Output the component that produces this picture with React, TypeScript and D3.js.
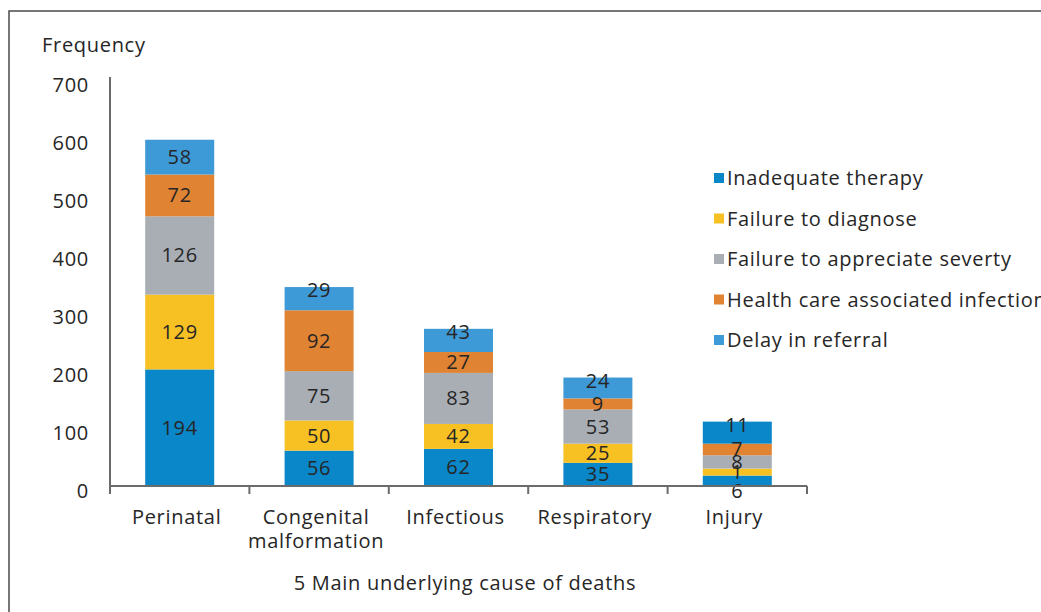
import React from "react";
import * as d3 from "d3";

// Categories (x axis)
const categories = ["Perinatal", "Congenital malformation", "Infectious", "Respiratory", "Injury"];
const categoryLines = [["Perinatal"], ["Congenital", "malformation"], ["Infectious"], ["Respiratory"], ["Injury"]];

// Series names (stack order bottom -> top)
const seriesNames = [
  "Inadequate therapy",
  "Failure to diagnose",
  "Failure to appreciate severty",
  "Health care associated infection",
  "Delay in referral",
];

// Segment heights as drawn in the picture (per series, per category)
const inadequateTherapy = [201, 61, 64, 40, 18];
const failureToDiagnose = [129, 52, 43, 33, 12];
const failureToAppreciate = [135, 85, 88, 59, 23];
const healthCareInfection = [72, 105, 36, 19, 20];
const delayInReferral = [60, 40, 40, 36, 38];

// Printed data labels
const labInadequate = [194, 56, 62, 35, 6];
const labDiagnose = [129, 50, 42, 25, 1];
const labAppreciate = [126, 75, 83, 53, 8];
const labInfection = [72, 92, 27, 9, 7];
const labDelay = [58, 29, 43, 24, 11];

const yTicks = [0, 100, 200, 300, 400, 500, 600, 700];

const seriesValues = [inadequateTherapy, failureToDiagnose, failureToAppreciate, healthCareInfection, delayInReferral];
const seriesLabels = [labInadequate, labDiagnose, labAppreciate, labInfection, labDelay];
const colors = ["#0a87c8", "#f7c124", "#a9aeb5", "#e08332", "#3e9ad6"];

const FONT = "'Open Sans', sans-serif";
const FS = 20;
const LS = 0.7;
const TEXT = "#262626";
const AXIS = "#6b6b6b";

export default function App() {
  const W = 1041, H = 612;
  const x0 = 110, x1 = 807, yBase = 486;
  const x = d3.scaleBand<string>().domain(categories).range([x0, x1]).padding(0);
  const y = d3.scaleLinear().domain([0, 700]).range([yBase, 80]);
  const bw = x.bandwidth() * 0.495;

  const rows = categories.map((c, i) => {
    const o: any = { cat: c };
    seriesNames.forEach((s, j) => (o[s] = seriesValues[j][i]));
    return o;
  });
  const stacked = d3.stack<any>().keys(seriesNames)(rows);
  const tp = { fontFamily: FONT, fontSize: FS, letterSpacing: LS, fill: TEXT };

  return (
    <svg width={W} height={H} style={{ position: "absolute", left: 0, top: 0, background: "#fff" }}>
      <rect x={9} y={11} width={W + 20} height={H + 20} fill="#fff" stroke="#4a4a4a" strokeWidth={1.5} />
      <text x={42} y={52} {...tp}>Frequency</text>
      {yTicks.map((t) => (
        <text key={t} x={89} y={y(t) + 5} dy="0.35em" textAnchor="end" {...tp}>{t}</text>
      ))}
      {stacked.map((layer, j) =>
        layer.map((d, i) => (
          <rect
            key={`${j}-${i}`}
            x={(x(categories[i]) as number) + (x.bandwidth() - bw) / 2}
            y={y(d[1])}
            width={bw}
            height={y(d[0]) - y(d[1])}
            fill={j === 4 && i === 4 ? colors[0] : colors[j]}
          />
        ))
      )}
      {stacked.map((layer, j) =>
        layer.map((d, i) => {
          const top = y(d[1]);
          const bot = y(d[0]);
          const h = bot - top;
          let cy = (top + bot) / 2;
          if (j === 4 && h < 30) cy = top + 3;
          if (j === 0 && h < 15) cy = bot + 5;
          return (
            <text
              key={`l${j}-${i}`}
              x={(x(categories[i]) as number) + x.bandwidth() / 2}
              y={cy}
              dy="0.35em"
              textAnchor="middle"
              {...tp}
            >
              {seriesLabels[j][i]}
            </text>
          );
        })
      )}
      <line x1={x0} x2={x1} y1={yBase} y2={yBase} stroke={AXIS} strokeWidth={2} />
      <line x1={x0} x2={x0} y1={77} y2={494} stroke={AXIS} strokeWidth={2} />
      {categories.map((c) => (
        <line key={c} x1={x(c) as number} x2={x(c) as number} y1={yBase} y2={494} stroke={AXIS} strokeWidth={2} />
      ))}
      <line x1={x1} x2={x1} y1={yBase} y2={494} stroke={AXIS} strokeWidth={2} />
      {categoryLines.map((lines, i) => (
        <text key={i} y={524} textAnchor="middle" {...tp}>
          {lines.map((l, k) => (
            <tspan key={k} x={(x(categories[i]) as number) + x.bandwidth() / 2 - 3} dy={k === 0 ? 0 : 24}>{l}</tspan>
          ))}
        </text>
      ))}
      <text x={465} y={590} textAnchor="middle" {...tp}>5 Main underlying cause of deaths</text>
      {seriesNames.map((s, j) => (
        <g key={s} transform={`translate(714, ${178 + j * 40.5})`}>
          <rect x={0} y={-5} width={10} height={10} fill={colors[j]} />
          <text x={13} y={0} dy="0.35em" {...tp}>{s}</text>
        </g>
      ))}
    </svg>
  );
}
